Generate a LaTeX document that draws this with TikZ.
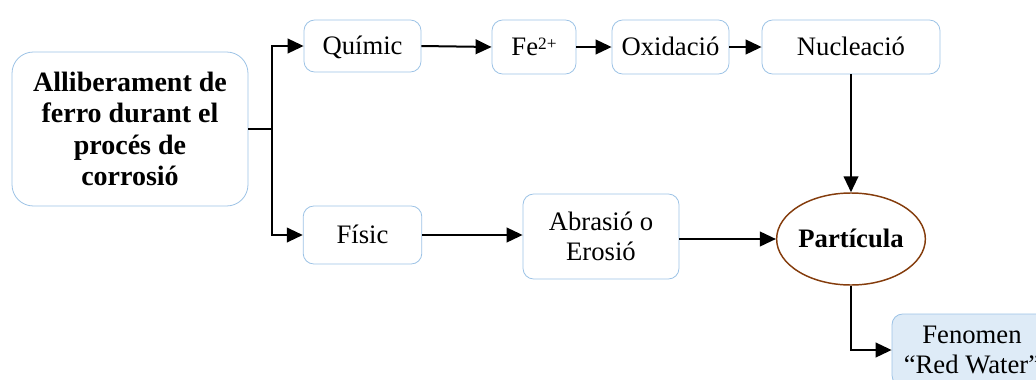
\documentclass[tikz,border=0pt]{standalone}
\usepackage{fontspec}
\setmainfont{Liberation Serif}
\usetikzlibrary{arrows.meta,shapes.geometric}
\definecolor{boxblue}{HTML}{9DC3E6}
\definecolor{fenfill}{HTML}{DEEBF7}
\definecolor{brownline}{HTML}{843C0C}
\begin{document}
\begin{tikzpicture}[x=0.75pt,y=-0.75pt,
  box/.style={draw=boxblue, line width=0.6pt, rounded corners=8pt, fill=white,
    align=center, inner sep=0pt, font=\fontsize{20}{22}\selectfont},
  oneline/.style={text height=12pt, text depth=0pt},
  arr/.style={line width=1.5pt, -{Triangle[length=12pt,width=11pt]}},
  ln/.style={line width=1.5pt}]
\useasboundingbox (0,0) rectangle (1036,379);
\clip (0,0) rectangle (1036,379);
\node[box, rounded corners=16pt, minimum width=177pt, minimum height=115.5pt,
  font=\fontsize{21}{23.5}\selectfont\bfseries] (left) at (130,129)
  {Alliberament de\\ferro durant el\\procés de\\corrosió};
\node[box, oneline, minimum width=87.75pt, minimum height=39pt] (quimic) at (362.5,46) {Químic};
\node[box, oneline, minimum width=63pt, minimum height=40.5pt] (fe) at (534,47)
  {Fe\raisebox{4.5pt}{\fontsize{13}{13}\selectfont 2+}};
\node[box, oneline, minimum width=87.75pt, minimum height=40.5pt] (oxid) at (670.5,47) {Oxidació};
\node[box, oneline, minimum width=133.5pt, minimum height=40.5pt] (nucl) at (851,47) {Nucleació};
\node[box, oneline, minimum width=89pt, minimum height=43.5pt] (fisic) at (362.5,235) {Físic};
\node[box, minimum width=117pt, minimum height=63.75pt] (abras) at (601,236.5) {Abrasió o\\Erosió};
\node[draw=brownline, line width=1.1pt, ellipse, minimum width=96pt, minimum height=69pt,
  inner sep=0pt, text height=12pt, text depth=0pt,
  font=\fontsize{20}{22}\selectfont\bfseries] (part) at (851,239) {Partícula};
\node[box, fill=fenfill, minimum width=120pt, minimum height=54pt] (fen) at (972,350) {Fenomen\\“Red Water”};
\coordinate (j) at (272,129);
\draw[ln] (left.east) -- (j);
\draw[arr] (j) |- (quimic.west);
\draw[arr] (j) |- (fisic.west);
\draw[arr] (quimic.east) -- (fe.west);
\draw[arr] (fe.east) -- (oxid.west);
\draw[arr] (oxid.east) -- (nucl.west);
\draw[arr] (nucl.south) -- (part.north);
\draw[arr] (fisic.east) -- (fisic.east -| abras.west);
\draw[arr] (abras.east |- part.west) -- (part.west);
\draw[arr] (part.south) |- (fen.west);
\end{tikzpicture}
\end{document}
